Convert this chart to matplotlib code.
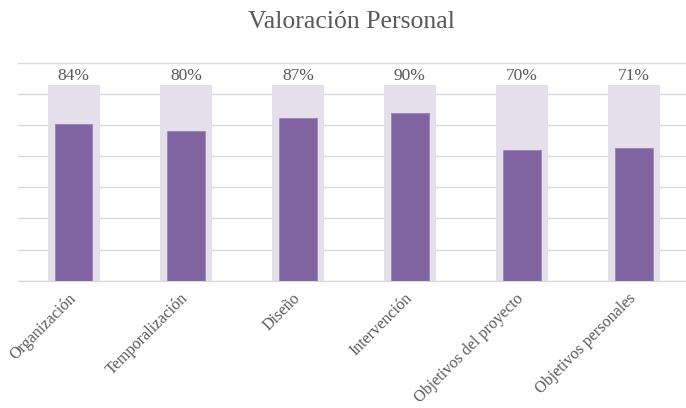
import matplotlib
matplotlib.use("Agg")
import matplotlib.pyplot as plt
import matplotlib.transforms as mtrans

categories = ["Organización", "Temporalización", "Diseño", "Intervención",
              "Objetivos del proyecto", "Objetivos personales"]
percentages = [84, 80, 87, 90, 70, 71]
max_score = 6
background_value = 6.28
value_labels = ["84%", "80%", "87%", "90%", "70%", "71%"]

scores = [p / 100 * max_score for p in percentages]

plt.rcParams['font.family'] = ['Liberation Serif', 'DejaVu Serif']
fig = plt.figure(figsize=(6.86, 4.08), dpi=100)
ax = fig.add_axes([17.8 / 686, 127.3 / 408, (690 - 17.8) / 686, (280.7 - 62.7) / 408])

x = list(range(len(categories)))
ax.bar(x, [background_value] * len(x), width=0.467, color="#E5DFEC", zorder=2)
ax.bar(x, scores, width=0.333, color="#8064A2", edgecolor="#9A84B8", linewidth=0.6, zorder=3)

for xi, lab in zip(x, value_labels):
    ax.annotate(lab, (xi, background_value), xytext=(0, 1.0), textcoords="offset points",
                ha="center", va="bottom", fontsize=12.5, color="#595959")

ax.set_xlim(-0.5, len(x) - 0.5)
ax.set_ylim(0, 7)
ax.set_yticks(range(0, 8))
ax.yaxis.grid(True, color="#D9D9D9", linewidth=1)
ax.set_axisbelow(True)
ax.tick_params(axis="y", left=False, labelleft=False)
ax.tick_params(axis="x", length=0, pad=7)
ax.set_xticks(x)
ax.set_xticklabels(categories, rotation=45, ha="right", rotation_mode="anchor",
                   fontsize=11.6, color="#595959")
shift = mtrans.ScaledTranslation(-6 / 100, 0, fig.dpi_scale_trans)
for t in ax.get_xticklabels():
    t.set_transform(t.get_transform() + shift)
for s in ["top", "right", "left"]:
    ax.spines[s].set_visible(False)
ax.spines["bottom"].set_color("#D9D9D9")

fig.text(351 / 686, 1 - 22.5 / 408, "Valoración Personal", ha="center", va="center",
         fontsize=18.5, color="#595959")

fig.savefig("out.png", dpi=100)
